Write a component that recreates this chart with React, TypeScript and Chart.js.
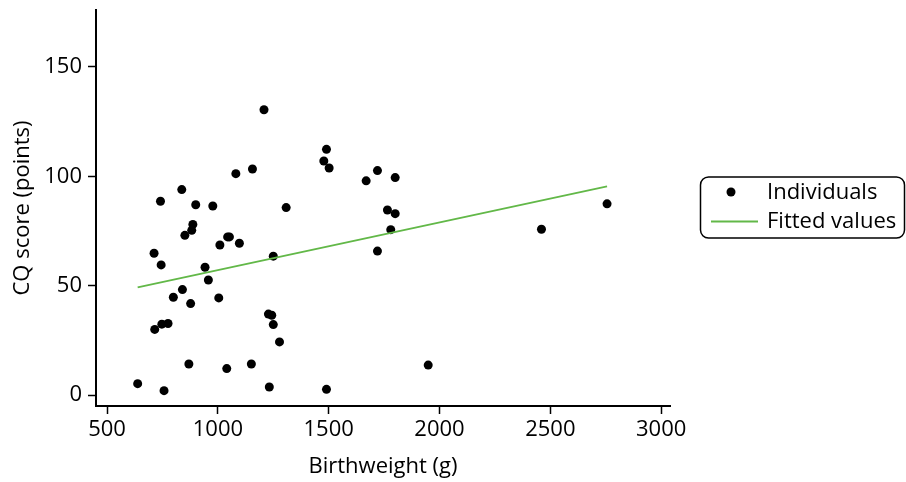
import React, { useEffect, useRef } from "react";
import Chart from "chart.js/auto";

const birthweight = [
  638, 757, 712, 744, 741, 837, 900, 977, 1081, 1156, 1208, 1308, 851, 887, 882,
  1009, 1044, 1052, 1097, 942, 957, 1250, 840, 799, 877, 1004, 715, 747, 775,
  1228, 1243, 1250, 1278, 869, 1040, 1151, 1232, 1490, 1478, 1502, 1669, 1720,
  1720, 1765, 1800, 1800, 1780, 2460, 2756, 1949, 1490,
];
const cqScore = [
  5.2, 2.0, 64.8, 59.5, 88.6, 93.9, 87.0, 86.4, 101.2, 103.3, 130.4, 85.7, 73.0,
  78.0, 75.3, 68.6, 72.3, 72.3, 69.4, 58.4, 52.6, 63.5, 48.2, 44.7, 41.8, 44.4,
  30.0, 32.4, 32.7, 37.0, 36.5, 32.2, 24.3, 14.2, 12.1, 14.2, 3.7, 112.3, 107.0,
  103.8, 97.9, 102.6, 65.8, 84.6, 99.4, 82.9, 75.6, 75.8, 87.4, 13.7, 2.6,
];
const fitX = [638, 2756];
const fitY = [49.2, 95.4];
const xTicks = [500, 1000, 1500, 2000, 2500, 3000];
const yTicks = [0, 50, 100, 150];
const seriesLabels = ["Individuals", "Fitted values"];
const xTitle = "Birthweight (g)";
const yTitle = "CQ score (points)";

const FONT = "'Open Sans', sans-serif";
const GREEN = "rgb(98,184,72)";

const legendBox = {
  id: "legendBox",
  afterDraw(chart: any) {
    const ctx = chart.ctx as CanvasRenderingContext2D;
    ctx.save();
    ctx.beginPath();
    (ctx as any).roundRect(700.5, 177, 204, 61, 8);
    ctx.lineWidth = 1.5;
    ctx.strokeStyle = "#000";
    ctx.stroke();
    ctx.beginPath();
    ctx.arc(731, 192, 4.5, 0, Math.PI * 2);
    ctx.fillStyle = "#000";
    ctx.fill();
    ctx.beginPath();
    ctx.moveTo(711, 221.5);
    ctx.lineTo(758, 221.5);
    ctx.strokeStyle = GREEN;
    ctx.lineWidth = 1.8;
    ctx.stroke();
    ctx.fillStyle = "#000";
    ctx.font = `22px ${FONT}`;
    ctx.textBaseline = "middle";
    ctx.textAlign = "left";
    ctx.fillText(seriesLabels[0], 767, 193);
    ctx.fillText(seriesLabels[1], 767, 222);
    ctx.restore();
  },
};

const zeroPad = (s: any) => {
  s.paddingTop = 0;
  s.paddingBottom = 0;
  s.paddingLeft = 0;
  s.paddingRight = 0;
};

export default function App() {
  const ref = useRef<HTMLCanvasElement>(null);
  useEffect(() => {
    if (!ref.current) return;
    const chart = new Chart(ref.current, {
      type: "scatter",
      data: {
        datasets: [
          {
            label: seriesLabels[0],
            data: birthweight.map((x, i) => ({ x, y: cqScore[i] })),
            backgroundColor: "#000",
            borderWidth: 0,
            pointRadius: 4.5,
            order: 1,
          },
          {
            label: seriesLabels[1],
            type: "line",
            data: fitX.map((x, i) => ({ x, y: fitY[i] })),
            borderColor: GREEN,
            borderWidth: 1.9,
            pointRadius: 0,
            fill: false,
            order: 0,
          } as any,
        ],
      },
      options: {
        animation: false,
        responsive: true,
        maintainAspectRatio: false,
        layout: { padding: { left: 0, top: 10, right: 236, bottom: 0 } },
        plugins: { legend: { display: false }, tooltip: { enabled: false } },
        scales: {
          x: {
            type: "linear",
            min: 450,
            max: 3040,
            afterBuildTicks: (s: any) => {
              s.ticks = xTicks.map((v) => ({ value: v }));
            },
            afterFit: (s: any) => {
              s.height = 76;
              zeroPad(s);
            },
            grid: {
              display: true,
              drawOnChartArea: false,
              drawTicks: true,
              tickLength: 8,
              tickWidth: 1.5,
              tickColor: "#000",
            },
            border: { display: true, color: "#000", width: 2 },
            ticks: {
              color: "#000",
              font: { family: FONT, size: 22 },
              padding: 3,
              maxRotation: 0,
              autoSkip: false,
              callback: (v: any) => String(v),
            },
            title: {
              display: true,
              text: xTitle,
              color: "#000",
              font: { family: FONT, size: 22 },
              padding: { top: 0, bottom: 2 },
            },
          },
          y: {
            type: "linear",
            min: -5,
            max: 176,
            afterBuildTicks: (s: any) => {
              s.ticks = yTicks.map((v) => ({ value: v }));
            },
            afterFit: (s: any) => {
              s.width = 96;
              zeroPad(s);
            },
            grid: {
              display: true,
              drawOnChartArea: false,
              drawTicks: true,
              tickLength: 8,
              tickWidth: 1.5,
              tickColor: "#000",
            },
            border: { display: true, color: "#000", width: 2 },
            ticks: {
              color: "#000",
              font: { family: FONT, size: 22 },
              padding: 6,
              autoSkip: false,
              callback: (v: any) => String(v),
            },
            title: {
              display: true,
              text: yTitle,
              color: "#000",
              font: { family: FONT, size: 22 },
              padding: { top: 10, bottom: 0 },
            },
          },
        },
      },
      plugins: [legendBox],
    });
    return () => chart.destroy();
  }, []);
  return (
    <div style={{ position: "absolute", left: 0, top: 0, width: 906, height: 482 }}>
      <canvas ref={ref} />
    </div>
  );
}
